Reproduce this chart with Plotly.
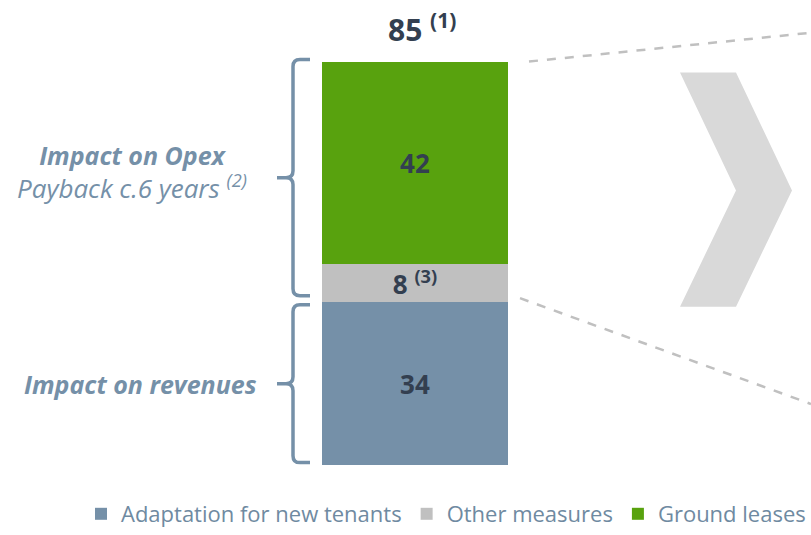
import plotly.graph_objects as go

# ---------------- data ----------------
categories = ["Total"]
series_names = ["Adaptation for new tenants", "Other measures", "Ground leases"]
series_values = [34, 8, 42]
series_labels = ["34", "8 <sup>(3)</sup>", "42"]
total_label = "85 <sup>(1)</sup>"
colors = ["#7590a8", "#c0c0c0", "#58a20e"]

W, H = 811, 535
# pixel geometry of the figure -> axis ranges
bar_left_px, bar_right_px = 322, 508
bar_top_px, bar_bottom_px = 62, 469
total = sum(series_values)
px_per_x = (bar_right_px - bar_left_px) / 1.0
px_per_y = (bar_bottom_px - bar_top_px) / total
center_px = (bar_left_px + bar_right_px) / 2
x_range = [-center_px / px_per_x, (W - center_px) / px_per_x]
y_range = [-(H - bar_bottom_px) / px_per_y, bar_bottom_px / px_per_y]


def dx(px):
    return (px - center_px) / px_per_x


def dy(py):
    return (bar_bottom_px - py) / px_per_y


DARK = "#333f50"
BRACE = "#7590a8"
FONT = "Open Sans"

fig = go.Figure()
for name, val, lab, col in zip(series_names, series_values, series_labels, colors):
    fig.add_trace(go.Bar(
        x=categories, y=[val], name=name, width=1,
        marker=dict(color=col, line=dict(width=0)),
        text=["<b>" + lab + "</b>"], textposition="inside",
        insidetextanchor="middle", constraintext="none",
        textfont=dict(color=DARK, size=26, family=FONT),
        hoverinfo="skip",
    ))

shapes = []
annotations = []

# total label
annotations.append(dict(x=0.04, y=dy(28), xref="x", yref="y", text="<b>" + total_label + "</b>",
                        showarrow=False, yanchor="middle",
                        font=dict(size=30, color=DARK, family=FONT)))


# braces
def brace(top, bot):
    vx, tip, mx = dx(293), dx(310), dx(277)
    rx, ry = 7 / px_per_x, 7 / px_per_y
    mid = (top + bot) / 2
    path = (f"M {tip},{top} L {vx+rx},{top} Q {vx},{top} {vx},{top-ry} "
            f"L {vx},{mid+ry} Q {vx},{mid} {vx-rx},{mid} L {mx},{mid} "
            f"M {vx-rx},{mid} Q {vx},{mid} {vx},{mid-ry} "
            f"L {vx},{bot+ry} Q {vx},{bot} {vx+rx},{bot} L {tip},{bot}")
    return dict(type="path", xref="x", yref="y", path=path,
                line=dict(color=BRACE, width=3.5))


rev_top = series_values[0]
shapes.append(brace(total + 0.4, rev_top + 1.3))
shapes.append(brace(rev_top - 0.6, 0.6))

annotations.append(dict(x=dx(132), y=dy(173), xref="x", yref="y",
                        text=("<b><i>Impact on Opex</i></b><br>"
                              "<i><span style='font-size:26px'>Payback c.6 years <sup>(2)</sup></span></i>"),
                        showarrow=False, align="center", yanchor="middle",
                        font=dict(size=25, color=BRACE, family=FONT)))
annotations.append(dict(x=dx(140), y=rev_top / 2, xref="x", yref="y",
                        text="<b><i>Impact on revenues</i></b>",
                        showarrow=False, align="center",
                        font=dict(size=25, color=BRACE, family=FONT)))

# dashed connector lines
shapes.append(dict(type="line", xref="x", yref="y", x0=dx(529), y0=total, x1=dx(811), y1=dy(33),
                   line=dict(color="#c0c0c0", width=2.5, dash="dash")))
shapes.append(dict(type="line", xref="x", yref="y", x0=dx(520), y0=rev_top + series_values[1] * 0.1,
                   x1=dx(811), y1=dy(407),
                   line=dict(color="#c0c0c0", width=2.5, dash="dash")))

# chevron
pts = [(680, 73), (736, 73), (792, 192), (736, 309), (680, 309), (736, 192)]
path = "M " + " L ".join(f"{dx(a)},{dy(b)}" for a, b in pts) + " Z"
shapes.append(dict(type="path", xref="x", yref="y", path=path,
                   fillcolor="#d9d9d9", line=dict(width=0), layer="below"))

fig.update_layout(
    width=W, height=H, barmode="stack",
    margin=dict(l=0, r=0, t=0, b=0),
    paper_bgcolor="white", plot_bgcolor="white",
    xaxis=dict(range=x_range, visible=False, fixedrange=True),
    yaxis=dict(range=y_range, visible=False, fixedrange=True),
    shapes=shapes, annotations=annotations,
    showlegend=True,
    legend=dict(orientation="h", x=1.0, xanchor="right", y=1 - 518 / H, yanchor="middle",
                font=dict(size=22, color="#6f8aa1", family=FONT),
                itemwidth=30, traceorder="normal", bgcolor="rgba(0,0,0,0)"),
    uniformtext=dict(minsize=26, mode="show"),
    font=dict(family=FONT),
)

fig.write_html("out.html", config={"displayModeBar": False},
               post_script="document.body.style.margin='0px';")
